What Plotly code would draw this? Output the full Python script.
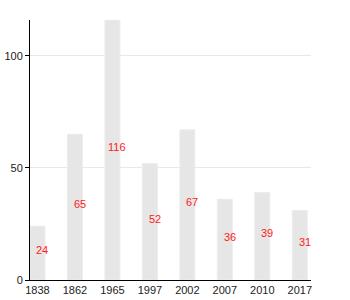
import plotly.graph_objects as go

categories = ["1838", "1862", "1965", "1997", "2002", "2007", "2010", "2017"]
values = [24, 65, 116, 52, 67, 36, 39, 31]
y_ticks = [0, 50, 100]

fig = go.Figure()
fig.add_trace(go.Bar(
    x=categories, y=values, width=0.4,
    marker=dict(color="#e6e6e6", line=dict(color="#ececec", width=1)),
    hoverinfo="skip",
))

for i, v in enumerate(values):
    fig.add_annotation(x=i, y=v / 2, text=str(v), showarrow=False,
                       xref="x", yref="y", xshift=5, yshift=3,
                       font=dict(color="#ff1a1a", size=11, family="Liberation Sans"))

fig.update_layout(
    width=350, height=300,
    margin=dict(l=30, r=39, t=20, b=20, autoexpand=False),
    paper_bgcolor="white", plot_bgcolor="white",
    showlegend=False,
    font=dict(family="Liberation Sans", size=11, color="#222"),
    xaxis=dict(type="category", range=[-0.2, 7.3], showline=True,
               linecolor="black", linewidth=1, ticks="", showgrid=False,
               automargin=False, tickfont=dict(size=11, color="#222")),
    yaxis=dict(range=[0, 116], tickvals=y_ticks, showline=True,
               linecolor="black", linewidth=1, ticks="outside", ticklen=4,
               tickcolor="black", showgrid=True, gridcolor="#e8e8e8",
               zeroline=False, automargin=False,
               tickfont=dict(size=11, color="#222")),
)

fig.write_html("out.html")
